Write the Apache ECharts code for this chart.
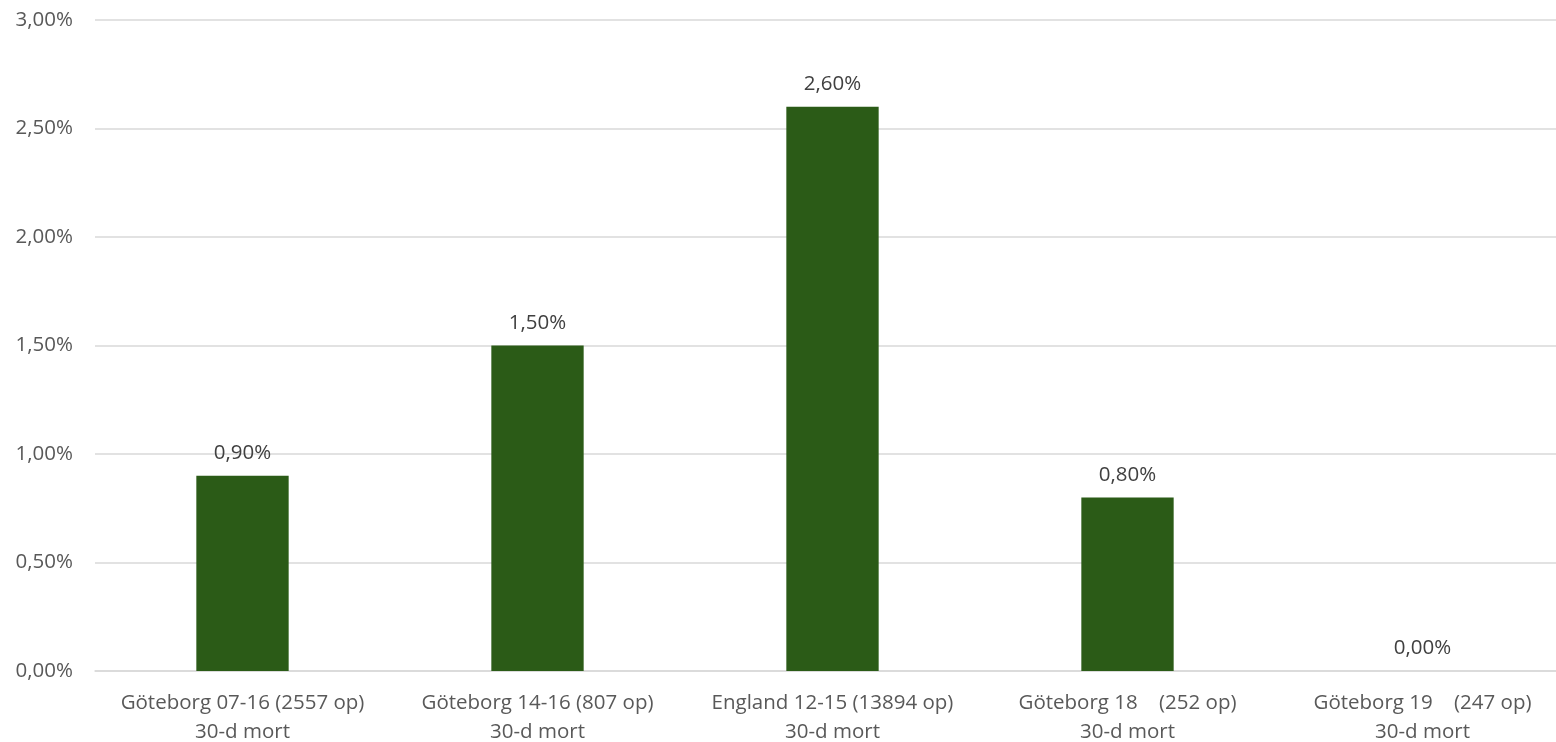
<!DOCTYPE html>
<html>
<head>
<meta charset="utf-8">
<script src="https://cdn.jsdelivr.net/npm/echarts@6/dist/echarts.min.js"></script>
<style>
  html, body { margin: 0; padding: 0; background: #ffffff; }
  #chart { width: 1556px; height: 742px; }
</style>
</head>
<body>
<div id="chart"></div>
<script>
// 30-day mortality per cohort (percent)
const categories = [
  'Göteborg 07-16 (2557 op)\n30-d mort',
  'Göteborg 14-16 (807 op)\n30-d mort',
  'England 12-15 (13894 op)\n30-d mort',
  'Göteborg 18    (252 op)\n30-d mort',
  'Göteborg 19    (247 op)\n30-d mort'
];
const mortality = [0.90, 1.50, 2.60, 0.80, 0.00];
const yMin = 0, yMax = 3, yStep = 0.5;

const fmt = v => v.toFixed(2).replace('.', ',') + '%';
const textColor = '#595959';
const fontFamily = '"Open Sans", "Noto Sans", sans-serif';

const chart = echarts.init(document.getElementById('chart'), null, { renderer: 'canvas' });
chart.setOption({
  animation: false,
  // the plot area runs slightly past the right edge of the canvas
  grid: {
    left: 95, top: 20, right: -14, bottom: 71,
    containLabel: false, outerBoundsMode: 'none'
  },
  xAxis: {
    type: 'category',
    data: categories,
    axisLine: { show: true, lineStyle: { color: '#d9d9d9', width: 1.5 } },
    axisTick: { show: false },
    axisLabel: {
      color: textColor, fontFamily, fontSize: 20.5, lineHeight: 28.5, margin: 18, interval: 0
    }
  },
  yAxis: {
    type: 'value',
    min: yMin, max: yMax, interval: yStep,
    axisLine: { show: false },
    axisTick: { show: false },
    splitLine: { lineStyle: { color: '#d9d9d9', width: 1.5 } },
    axisLabel: {
      color: textColor, fontFamily, fontSize: 20.5, margin: 22,
      formatter: v => fmt(v)
    }
  },
  series: [{
    type: 'bar',
    data: mortality,
    barWidth: '31.3%',
    itemStyle: { color: '#2b5b17' },
    label: {
      show: true, position: 'top', distance: 12,
      color: '#404040', fontFamily, fontSize: 20.5,
      formatter: p => fmt(p.value)
    }
  }]
});
</script>
</body>
</html>
